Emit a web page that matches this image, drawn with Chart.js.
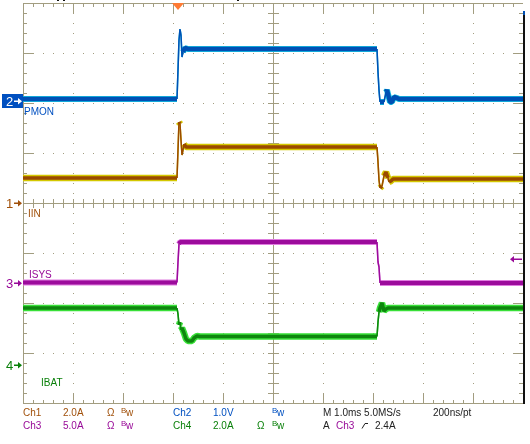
<!DOCTYPE html>
<html>
<head>
  <meta charset="UTF-8">
  <title>Scope capture</title>
  <script src="https://cdn.jsdelivr.net/npm/chart.js"></script>
  <style>
    body { margin: 0; background: #fff; }
    #wrap { width: 530px; height: 444px; }
  </style>
</head>
<body>
  <div id="wrap"><canvas id="scope" width="530" height="444"></canvas></div>

  <script>
    // time in ms relative to trigger (1 ms/div, trigger at 3.1 div from left)
    const timeRange = [-3.1, 6.9];

    // Ch1 - IIN (A)
    const ch1Time = [-3.1, -0.02, 0, 0.02, 0.04, 0.06, 0.08, 0.10, 0.12, 0.16, 3.98, 4.0, 4.02, 4.04, 4.08, 4.12, 4.16, 4.2, 4.22, 4.26, 4.3, 6.9];
    const ch1Amps = [1.00, 1.00, 2.12, 3.24, 3.16, 2.52, 1.92, 2.12, 2.36, 2.24, 2.24, 1.64, 0.92, 0.60, 0.68, 1.08, 1.24, 1.00, 0.84, 0.88, 0.96, 0.96];

    // Ch2 - PMON (V)
    const ch2Time = [-3.1, -0.02, 0, 0.02, 0.04, 0.06, 0.08, 0.10, 0.14, 0.2, 3.98, 4.0, 4.02, 4.04, 4.12, 4.16, 4.18, 4.22, 4.24, 4.28, 4.32, 4.38, 4.42, 6.9];
    const ch2Volts = [0.04, 0.04, 0.62, 1.22, 1.44, 1.32, 0.88, 0.98, 1.06, 1.04, 1.04, 0.58, 0.22, -0.02, -0.02, 0.18, 0.22, 0.06, -0.02, -0.02, 0.08, 0.06, 0.04, 0.04];

    // Ch3 - ISYS (A)
    const ch3Time = [-3.1, -0.02, 0, 0.02, 0.04, 3.98, 4.0, 4.02, 4.04, 6.9];
    const ch3Amps = [0.05, 0.05, 2.1, 3.9, 4.1, 4.1, 2.1, 1.6, 0.0, 0.0];

    // Ch4 - IBAT (A)
    const ch4Time = [-3.1, -0.02, 0, 0.02, 0.04, 0.06, 0.08, 0.12, 0.16, 0.2, 0.28, 0.32, 0.38, 0.44, 3.98, 4.0, 4.02, 4.04, 4.08, 4.12, 4.16, 4.2, 6.9];
    const ch4Amps = [2.26, 2.26, 2.02, 1.58, 1.70, 1.38, 1.46, 1.26, 1.02, 0.94, 0.94, 1.06, 1.14, 1.12, 1.12, 1.70, 2.10, 2.26, 2.46, 2.14, 2.22, 2.26, 2.26];

    // vertical setup per channel: units/div and ground marker (div from centre)
    const chNames = ['IIN', 'PMON', 'ISYS', 'IBAT'];
    const chPerDiv = [2.0, 1.0, 5.0, 2.0];
    const chGround = [0, 2.04, -1.6, -3.23];
    const trigLevel = 2.4; // A on Ch3

    const chDark = ['#9a4a00', '#0050b4', '#9c0c9c', '#0e860e'];
    const chLight = ['#d4c800', '#18c4e4', '#e07ce0', '#38e038'];
    const chText = ['#a0500a', '#0050c0', '#980a98', '#0a800a'];
    const gridColor = '#a29d80';

    function yAxis(i) {
      return {
        type: 'linear', display: false,
        min: (-4 - chGround[i]) * chPerDiv[i],
        max: (4 - chGround[i]) * chPerDiv[i]
      };
    }

    function trace(i, times, vals, width, light) {
      const w = width;
      return {
        data: times.map((t, k) => ({ x: t, y: vals[k] })),
        yAxisID: 'y' + (i + 1),
        borderColor: light ? chLight[i] : chDark[i],
        borderWidth: w,
        borderJoinStyle: 'bevel',
        borderCapStyle: 'butt',
        pointRadius: 0,
        tension: 0,
        segment: {
          // fast edges come out thin on the scope
          borderWidth: c => Math.abs(c.p1.y - c.p0.y) > 4 * Math.abs(c.p1.x - c.p0.x) ? 1.5 : w
        }
      };
    }

    const gridPlugin = {
      id: 'scopeGrid',
      beforeDatasetsDraw(chart) {
        const { ctx, chartArea: a } = chart;
        const dx = (a.right - a.left) / 10, dy = (a.bottom - a.top) / 8;
        const L = Math.round(a.left), R = Math.round(a.right), T = Math.round(a.top), B = Math.round(a.bottom);
        const cx = Math.round(a.left + 5 * dx), cy = Math.round(a.top + 4 * dy);
        ctx.save();
        ctx.fillStyle = gridColor;
        // dotted graticule
        for (let i = 1; i < 10; i++) {
          if (i === 5) continue;
          const x = Math.round(a.left + i * dx);
          for (let k = 1; k < 40; k++) ctx.fillRect(x, Math.round(a.top + k * dy / 5), 1, 1);
        }
        for (let j = 1; j < 8; j++) {
          if (j === 4) continue;
          const y = Math.round(a.top + j * dy);
          for (let k = 1; k < 50; k++) ctx.fillRect(Math.round(a.left + k * dx / 5), y, 1, 1);
        }
        // frame + centre cross
        ctx.fillRect(L, T, R - L, 1);
        ctx.fillRect(L, B, R - L + 1, 1);
        ctx.fillRect(L, T, 1, B - T);
        ctx.fillRect(cx, T, 1, B - T);
        ctx.fillRect(L, cy, R - L, 1);
        // minor / major ticks
        for (let k = 1; k < 50; k++) {
          const x = Math.round(a.left + k * dx / 5);
          const len = k % 5 === 0 ? 10 : 4;
          ctx.fillRect(x, T, 1, len);
          ctx.fillRect(x, B - len + 1, 1, len);
          ctx.fillRect(x, cy - 4, 1, 9);
        }
        for (let k = 1; k < 40; k++) {
          const y = Math.round(a.top + k * dy / 5);
          const len = k % 5 === 0 ? 10 : 4;
          ctx.fillRect(L, y, len, 1);
          ctx.fillRect(R - len, y, len, 1);
          ctx.fillRect(cx - 5, y, 11, 1);
        }
        // right edge
        ctx.fillStyle = '#0050b4';
        ctx.fillRect(R, T + 8, 2, 4);
        ctx.fillStyle = '#111';
        ctx.fillRect(R, T + 12, 2, B - T - 11);
        ctx.fillRect(57, 0, 2, 1);
        ctx.fillRect(63, 0, 2, 1);
        ctx.fillRect(237, 0, 2, 1);
        ctx.restore();
      }
    };

    function arrowRight(ctx, x, y, color) {
      ctx.fillStyle = color;
      ctx.fillRect(x - 8, y - 0.5, 6, 1.5);
      ctx.beginPath();
      ctx.moveTo(x, y + 0.25);
      ctx.lineTo(x - 4, y - 3);
      ctx.lineTo(x - 4, y + 3.5);
      ctx.closePath();
      ctx.fill();
    }

    function bw(ctx, x, y, color) {
      ctx.fillStyle = color;
      ctx.font = '8px "Liberation Sans", Arial, sans-serif';
      ctx.fillText('B', x, y - 3);
      ctx.font = '10px "Liberation Sans", Arial, sans-serif';
      ctx.fillText('w', x + 5, y);
    }

    const labelPlugin = {
      id: 'scopeLabels',
      afterDraw(chart) {
        const { ctx, chartArea: a, scales } = chart;
        const font = '10px "Liberation Sans", Arial, sans-serif';
        ctx.save();

        // ground markers on the left
        const g = [0, 1, 2, 3].map(i => Math.round(scales['y' + (i + 1)].getPixelForValue(0)));
        ctx.fillStyle = chText[1];
        ctx.fillRect(2, g[1] - 7, 21, 14);
        ctx.font = '13px "Liberation Sans", Arial, sans-serif';
        ctx.textBaseline = 'middle';
        ctx.fillStyle = '#fff';
        ctx.fillText('2', 6, g[1] + 1);
        arrowRight(ctx, 22, g[1], '#fff');
        [[0, '1'], [2, '3'], [3, '4']].forEach(([i, s]) => {
          ctx.fillStyle = chText[i];
          ctx.font = '13px "Liberation Sans", Arial, sans-serif';
          ctx.fillText(s, 6, g[i] + 1);
          arrowRight(ctx, 22, g[i], chText[i]);
        });

        // trace names
        ctx.textBaseline = 'alphabetic';
        ctx.font = font;
        ctx.fillStyle = chText[1]; ctx.fillText(chNames[1], 24, 115);
        ctx.fillStyle = chText[0]; ctx.fillText(chNames[0], 28, 217);
        ctx.fillStyle = chText[2]; ctx.fillText(chNames[2], 29, 278);
        ctx.fillStyle = chText[3]; ctx.fillText(chNames[3], 41, 386);

        // trigger position & level
        const tx = scales.x.getPixelForValue(0);
        ctx.fillStyle = '#ff7a33';
        ctx.beginPath();
        ctx.moveTo(tx - 6, a.top); ctx.lineTo(tx + 6, a.top); ctx.lineTo(tx, a.top + 7);
        ctx.closePath(); ctx.fill();
        const ty = Math.round(scales.y3.getPixelForValue(trigLevel));
        ctx.fillStyle = chText[2];
        ctx.fillRect(a.right - 9, ty - 0.5, 8, 1.5);
        ctx.beginPath();
        ctx.moveTo(a.right - 13, ty + 0.25); ctx.lineTo(a.right - 9, ty - 3); ctx.lineTo(a.right - 9, ty + 3.5);
        ctx.closePath(); ctx.fill();

        // readout
        const r1 = 416, r2 = 429;
        ctx.font = font;
        const put = (s, x, y, c) => { ctx.fillStyle = c; ctx.fillText(s, x, y); };
        put('Ch1', 23, r1, chText[0]); put('2.0A', 63, r1, chText[0]); put('\u03A9', 107, r1, chText[0]); bw(ctx, 121, r1, chText[0]);
        ctx.font = font;
        put('Ch2', 173, r1, chText[1]); put('1.0V', 213, r1, chText[1]); bw(ctx, 272, r1, chText[1]);
        ctx.font = font;
        put('M 1.0ms 5.0MS/s', 323, r1, '#222'); put('200ns/pt', 433, r1, '#222');
        put('Ch3', 23, r2, chText[2]); put('5.0A', 63, r2, chText[2]); put('\u03A9', 107, r2, chText[2]); bw(ctx, 121, r2, chText[2]);
        ctx.font = font;
        put('Ch4', 173, r2, chText[3]); put('2.0A', 213, r2, chText[3]); put('\u03A9', 257, r2, chText[3]); bw(ctx, 272, r2, chText[3]);
        ctx.font = font;
        put('A', 323, r2, '#222'); put('Ch3', 336, r2, chText[2]); put('2.4A', 375, r2, '#222');
        ctx.strokeStyle = '#222'; ctx.lineWidth = 1;
        ctx.beginPath();
        ctx.moveTo(362, 428.5); ctx.lineTo(365, 423.5); ctx.lineTo(368, 423.5);
        ctx.stroke();
        ctx.restore();
      }
    };

    new Chart(document.getElementById('scope'), {
      type: 'line',
      data: {
        datasets: [
          trace(1, ch2Time, ch2Volts, 4.5, false),
          trace(1, ch2Time, ch2Volts, 6, true),
          trace(0, ch1Time, ch1Amps, 3.5, false),
          trace(0, ch1Time, ch1Amps, 6.5, true),
          trace(2, ch3Time, ch3Amps, 4, false),
          trace(2, ch3Time, ch3Amps, 6, true),
          trace(3, ch4Time, ch4Amps, 3.5, false),
          trace(3, ch4Time, ch4Amps, 6.5, true)
        ]
      },
      options: {
        responsive: false,
        animation: false,
        layout: { padding: { left: 23, right: 7, top: 3, bottom: 41 } },
        plugins: { legend: { display: false }, tooltip: { enabled: false } },
        scales: {
          x: { type: 'linear', display: false, min: timeRange[0], max: timeRange[1] },
          y1: yAxis(0), y2: yAxis(1), y3: yAxis(2), y4: yAxis(3)
        }
      },
      plugins: [gridPlugin, labelPlugin]
    });
  </script>
</body>
</html>
